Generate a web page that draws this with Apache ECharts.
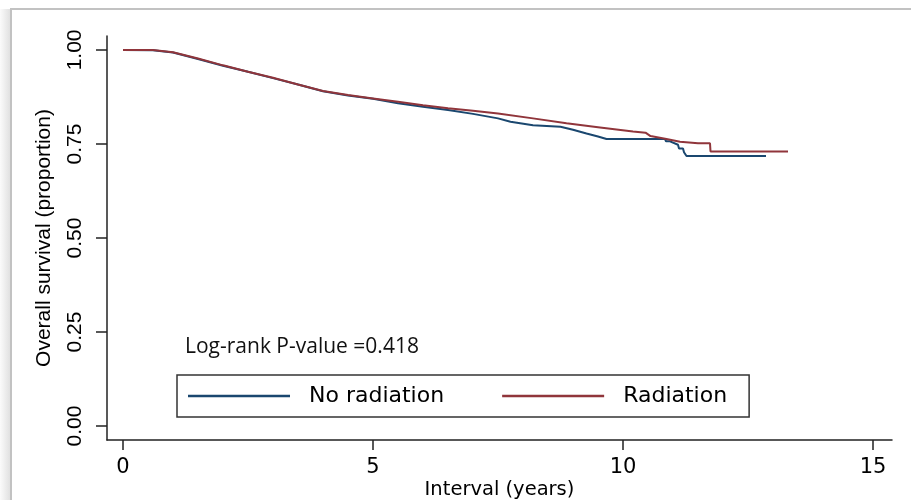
<!DOCTYPE html>
<html>
<head>
<meta charset="utf-8">
<script src="https://cdn.jsdelivr.net/npm/echarts@6/dist/echarts.min.js"></script>
<style>
  html, body { margin: 0; padding: 0; background: #ffffff; }
  #chart { width: 911px; height: 500px; }
</style>
</head>
<body>
<div id="chart"></div>
<script>
// Kaplan-Meier estimates: time in years, survival as a proportion.
// Repeated times mark the visible drops of the step function.
const noRadiationTime = [0, 0.6, 1.0, 1.5, 2.0, 2.5, 3.0, 3.5, 4.0, 4.5, 5.0, 5.5, 6.0, 6.5, 7.0, 7.5, 7.75, 8.2, 8.75, 9.0, 9.27, 9.5, 9.67, 10.84, 10.86, 10.94, 10.95, 11.1, 11.12, 11.2, 11.22, 11.26, 11.27, 12.86];
const noRadiationSurv = [1.000, 0.999, 0.993, 0.976, 0.958, 0.942, 0.925, 0.908, 0.890, 0.879, 0.870, 0.858, 0.849, 0.840, 0.830, 0.818, 0.809, 0.800, 0.796, 0.788, 0.778, 0.770, 0.763, 0.763, 0.757, 0.757, 0.752, 0.748, 0.738, 0.738, 0.728, 0.728, 0.718, 0.718];

const radiationTime = [0, 0.6, 1.0, 1.5, 2.0, 2.5, 3.0, 3.5, 4.0, 4.5, 5.0, 5.5, 6.0, 6.5, 7.0, 7.5, 8.2, 8.87, 9.54, 10.2, 10.45, 10.55, 10.87, 11.14, 11.5, 11.74, 11.75, 13.3];
const radiationSurv = [1.000, 1.000, 0.994, 0.977, 0.959, 0.942, 0.926, 0.908, 0.891, 0.880, 0.871, 0.862, 0.853, 0.845, 0.838, 0.831, 0.818, 0.805, 0.794, 0.783, 0.780, 0.771, 0.763, 0.756, 0.752, 0.752, 0.730, 0.730];

const groupNames = ['No radiation', 'Radiation'];
const xTicks = [0, 5, 10, 15];
const yTicks = [0, 0.25, 0.5, 0.75, 1];
const logRankP = '0.418';

const pairs = (t, s) => t.map((v, i) => [v, s[i]]);

const chart = echarts.init(document.getElementById('chart'), null, { renderer: 'canvas' });

const axisColor = '#222';
const textColor = '#000';

chart.setOption({
  animation: false,
  backgroundColor: '#ffffff',
  grid: { left: 107, top: 36, right: 19, bottom: 60, containLabel: false, outerBoundsMode: 'none' },
  xAxis: {
    type: 'value',
    min: -0.32,
    max: 15.38,
    name: 'Interval (years)',
    nameLocation: 'middle',
    nameGap: 40,
    nameMoveOverlap: false,
    nameTextStyle: { fontFamily: 'DejaVu Sans', fontSize: 19.5, color: textColor },
    axisLine: { show: true, onZero: false, lineStyle: { color: axisColor, width: 1.5 } },
    axisTick: { show: true, inside: false, length: 10, customValues: xTicks, lineStyle: { color: axisColor, width: 1.5 } },
    axisLabel: { customValues: xTicks, margin: 17, fontFamily: 'DejaVu Sans', fontSize: 21, color: textColor },
    splitLine: { show: false }
  },
  yAxis: {
    type: 'value',
    min: -0.037,
    max: 1.037,
    name: 'Overall survival (proportion)',
    nameLocation: 'middle',
    nameRotate: 90,
    nameGap: 52,
    nameMoveOverlap: false,
    nameTextStyle: { fontFamily: 'Liberation Sans', fontSize: 21, color: textColor },
    axisLine: { show: true, onZero: false, lineStyle: { color: axisColor, width: 1.5 } },
    axisTick: { show: true, inside: false, length: 11, customValues: yTicks, lineStyle: { color: axisColor, width: 1.5 } },
    axisLabel: {
      customValues: yTicks,
      rotate: 90,
      margin: 21,
      fontFamily: 'Liberation Sans',
      fontSize: 21,
      color: textColor,
      formatter: v => v.toFixed(2)
    },
    splitLine: { show: false }
  },
  legend: {
    data: groupNames,
    left: 177,
    top: 375,
    orient: 'horizontal',
    icon: 'rect',
    itemWidth: 102,
    itemHeight: 2.5,
    itemGap: 58,
    padding: [10, 22, 10, 11],
    borderColor: '#333',
    borderWidth: 1.5,
    backgroundColor: '#fff',
    textStyle: { fontFamily: 'DejaVu Sans', fontSize: 22, color: textColor, padding: [0, 0, 0, 14] }
  },
  graphic: [
    {
      type: 'rect',
      silent: true,
      z: -10,
      shape: { x: 0, y: 9, width: 11, height: 491 },
      style: {
        fill: new echarts.graphic.LinearGradient(0, 0, 1, 0, [
          { offset: 0, color: '#fbfbfb' },
          { offset: 1, color: '#dedede' }
        ])
      }
    },
    {
      type: 'rect',
      silent: true,
      z: -9,
      shape: { x: 11, y: 9, width: 920, height: 520 },
      style: { fill: 'none', stroke: '#c2c2c2', lineWidth: 2 }
    },
    {
      type: 'text',
      left: 185,
      top: 337,
      style: {
        text: 'Log-rank P-value =' + logRankP,
        fontFamily: 'Open Sans',
        fontSize: 21,
        fill: '#111'
      }
    }
  ],
  series: [
    {
      name: groupNames[0],
      type: 'line',
      showSymbol: false,
      symbol: 'none',
      data: pairs(noRadiationTime, noRadiationSurv),
      lineStyle: { color: '#1a476f', width: 2 },
      itemStyle: { color: '#1a476f' },
      z: 2
    },
    {
      name: groupNames[1],
      type: 'line',
      showSymbol: false,
      symbol: 'none',
      data: pairs(radiationTime, radiationSurv),
      lineStyle: { color: '#90353b', width: 2 },
      itemStyle: { color: '#90353b' },
      z: 3
    }
  ]
});
</script>
</body>
</html>
